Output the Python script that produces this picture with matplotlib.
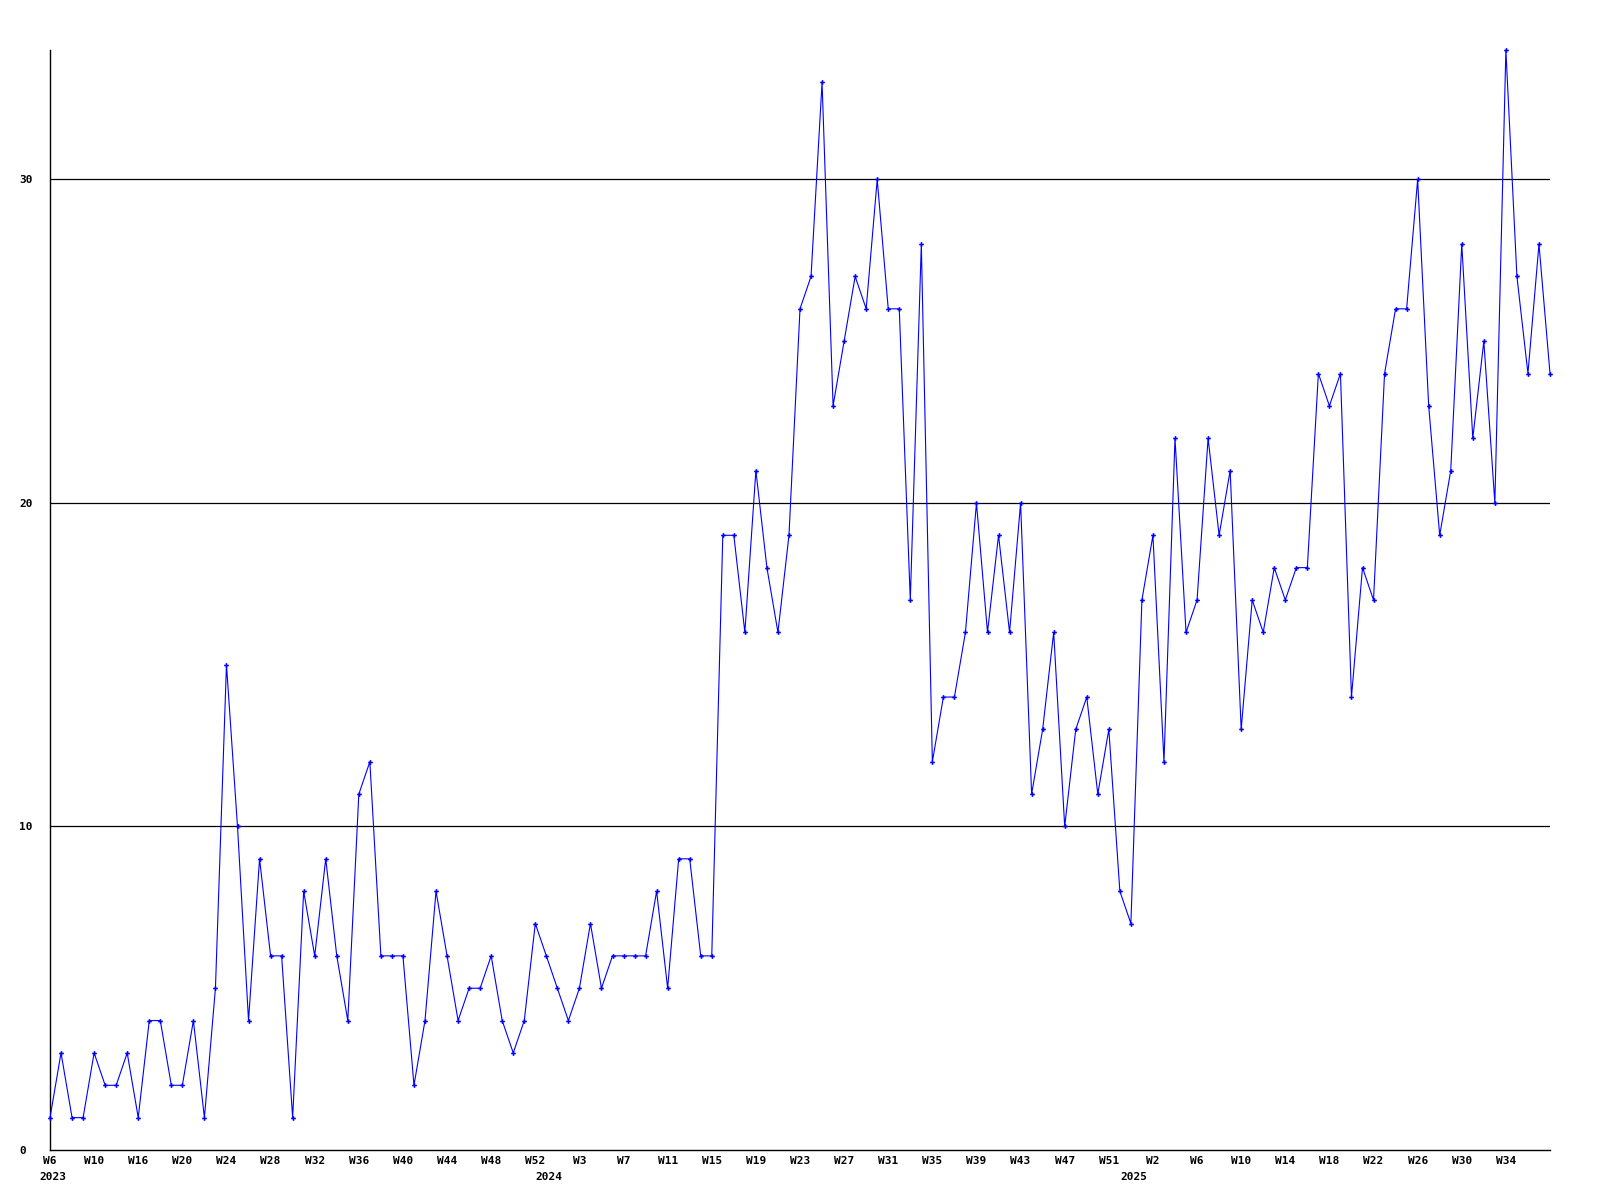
import numpy as np
import matplotlib
matplotlib.use("Agg")
import matplotlib.pyplot as plt

# Weekly values (2023 W6 .. 2025)
values = [
    1, 3, 1, 1, 3, 2, 2, 3, 1, 4, 4, 2, 2, 4, 1, 5, 15, 10, 4, 9,
    6, 6, 1, 8, 6, 9, 6, 4, 11, 12, 6, 6, 6, 2, 4, 8, 6, 4, 5, 5,
    6, 4, 3, 4, 7, 6, 5, 4, 5, 7, 5, 6, 6, 6, 6, 8, 5, 9, 9, 6,
    6, 19, 19, 16, 21, 18, 16, 19, 26, 27, 33, 23, 25, 27, 26, 30, 26, 26, 17, 28,
    12, 14, 14, 16, 20, 16, 19, 16, 20, 11, 13, 16, 10, 13, 14, 11, 13, 8, 7, 17,
    19, 12, 22, 16, 17, 22, 19, 21, 13, 17, 16, 18, 17, 18, 18, 24, 23, 24, 14, 18,
    17, 24, 26, 26, 30, 23, 19, 21, 28, 22, 25, 20, 34, 27, 24, 28, 24,
]

week_labels = ['W6', 'W10', 'W16', 'W20', 'W24', 'W28', 'W32', 'W36', 'W40', 'W44',
               'W48', 'W52', 'W3', 'W7', 'W11', 'W15', 'W19', 'W23', 'W27', 'W31',
               'W35', 'W39', 'W43', 'W47', 'W51', 'W2', 'W6', 'W10', 'W14', 'W18',
               'W22', 'W26', 'W30', 'W34']
label_every = 4

year_labels = ['2023', '2024', '2025']
year_start_index = [0, 45, 98]

y_ticks = [0, 10, 20, 30]
y_max = 34

FONT = 'DejaVu Sans Mono'

fig = plt.figure(figsize=(16, 12), dpi=100)
ax = fig.add_axes([50 / 1600, 50 / 1200, 1500 / 1600, 1100 / 1200])

x = np.arange(len(values))
ax.plot(x, values, color='#0000ff', linewidth=0.8, marker='P', markersize=3.4,
        markeredgewidth=0, clip_on=False, zorder=3)

ax.set_xlim(0, len(values) - 1)
ax.set_ylim(0, y_max)

# horizontal grid lines
ax.set_yticks(y_ticks)
ax.set_yticklabels([str(v) for v in y_ticks])
for v in y_ticks[1:]:
    ax.axhline(v, color='black', linewidth=0.9, zorder=1)

tick_pos = x[::label_every][:len(week_labels)]
ax.set_xticks(tick_pos)
ax.set_xticklabels(week_labels)

for s in ['top', 'right']:
    ax.spines[s].set_visible(False)
for s in ['left', 'bottom']:
    ax.spines[s].set_color('black')
    ax.spines[s].set_linewidth(1.0)

ax.tick_params(axis='y', length=0, pad=22.3)
ax.tick_params(axis='x', length=0, pad=4.5)
for lab in ax.get_yticklabels():
    lab.set_horizontalalignment('left')
    lab.set_fontfamily(FONT)
    lab.set_fontweight('bold')
    lab.set_fontsize(8)
for lab in ax.get_xticklabels():
    lab.set_fontfamily(FONT)
    lab.set_fontweight('bold')
    lab.set_fontsize(8)

for lbl, pos in zip(year_labels, year_start_index):
    ax.annotate(lbl, xy=(pos, 0), xycoords=('data', 'axes fraction'),
                xytext=(2, -19.4), textcoords='offset points',
                ha='center', va='center', fontfamily=FONT, fontweight='bold',
                fontsize=8, annotation_clip=False)

fig.savefig('out.png', dpi=100)
